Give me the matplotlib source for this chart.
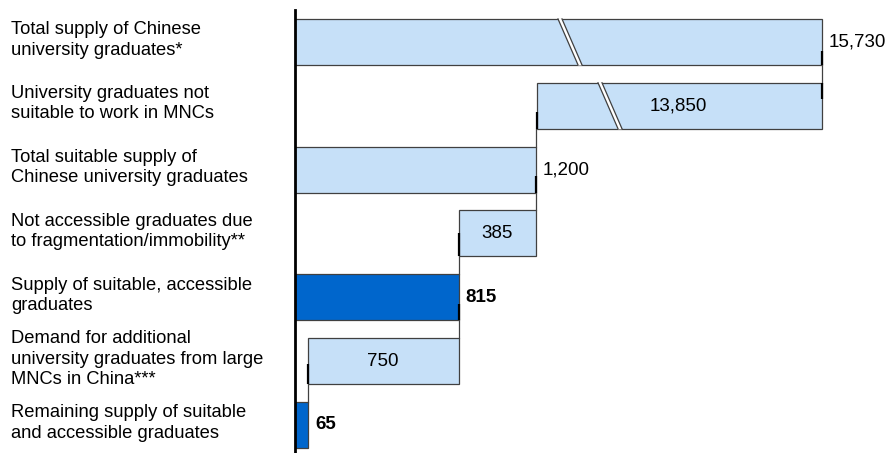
import numpy as np
import matplotlib
matplotlib.use("Agg")
import matplotlib.pyplot as plt
from matplotlib.patches import Polygon
from matplotlib.transforms import blended_transform_factory

plt.rcParams['font.family'] = ['Liberation Sans', 'DejaVu Sans']

# ---- data -------------------------------------------------------------
categories = [
    "Total supply of Chinese\nuniversity graduates*",
    "University graduates not\nsuitable to work in MNCs",
    "Total suitable supply of\nChinese university graduates",
    "Not accessible graduates due\nto fragmentation/immobility**",
    "Supply of suitable, accessible\ngraduates",
    "Demand for additional\nuniversity graduates from large\nMNCs in China***",
    "Remaining supply of suitable\nand accessible graduates",
]
total_supply = 15730
not_suitable = 13850
suitable = 1200
not_accessible = 385
accessible = 815
mnc_demand = 750
remaining = 65

values = [total_supply, not_suitable, suitable, not_accessible,
          accessible, mnc_demand, remaining]
value_labels = ["15,730", "13,850", "1,200", "385", "815", "750", "65"]
is_result = [False, False, False, False, True, False, True]

# waterfall geometry
lefts = [0, total_supply - not_suitable, 0, suitable - not_accessible,
         0, accessible - mnc_demand, 0]
rights = [l + v for l, v in zip(lefts, values)]

# ---- broken axis scale ------------------------------------------------
A = suitable                      # end of the fully linear part
B = total_supply - not_suitable   # start of the long compressed part
S_MID = 0.005                     # squeeze between A and B
END_SCALED = 2620.0               # where the longest bar ends in scaled units
K = (END_SCALED - (A + (B - A) * S_MID)) / (total_supply - B)


def fwd(x):
    x = np.asarray(x, dtype=float)
    return np.where(x <= A, x,
                    np.where(x <= B, A + (x - A) * S_MID,
                             A + (B - A) * S_MID + (x - B) * K))


def inv(y):
    y = np.asarray(y, dtype=float)
    yb = A + (B - A) * S_MID
    return np.where(y <= A, y,
                    np.where(y <= yb, A + (y - A) / S_MID,
                             B + (y - yb) / K))


def shift(x, px):
    """Data position px pixels to the right of data position x."""
    return float(inv(fwd(x) + px / px_per_unit))


# ---- figure -------------------------------------------------------------
W, H = 889, 453
fig = plt.figure(figsize=(W / 100, H / 100), dpi=100)
ax_left = 294.5 / W
ax_top = 10 / H
ax = fig.add_axes([ax_left, 0.0, 1 - ax_left, 1 - ax_top])
ax.set_xscale('function', functions=(fwd, inv))
px_per_unit = 0.2013
ax.set_xlim(0, float(inv((W - 294.5) / px_per_unit)))
ax.set_ylim(6.44, -0.5)

light = '#C6E0F8'
dark = '#0066CC'
edge = '#404040'
bh = 0.72

ypos = np.arange(len(categories))
for i in ypos:
    ax.barh(i, rights[i] - lefts[i], left=lefts[i], height=bh,
            color=dark if is_result[i] else light,
            edgecolor=edge, linewidth=0.9, zorder=2)

# connectors between consecutive bars
conn_x = [total_supply, suitable, suitable, accessible, accessible, remaining]
for i, cx in enumerate(conn_x):
    ax.plot([cx, cx], [i + bh / 2, i + 1 - bh / 2], color=edge, lw=0.9,
            zorder=1)

# short heavy ticks on the joined bar ends
ticks = [(total_supply, 0, 0.15, 0.36), (total_supply, 1, -0.36, -0.1),
         (B, 1, 0.1, 0.36), (suitable, 2, 0.1, 0.36),
         (accessible, 3, 0.0, 0.36), (accessible, 4, 0.1, 0.36),
         (remaining, 5, 0.05, 0.36)]
for tx, ti, y0, y1 in ticks:
    ax.plot([tx, tx], [ti + y0, ti + y1], color='black', lw=1.6, zorder=3,
            solid_capstyle='butt')


# break marks on the two long bars
def break_mark(row, center_scaled):
    slant = 10 / px_per_unit
    gap = 4 / px_per_unit
    yt, yb = row - bh / 2 - 0.01, row + bh / 2 + 0.01
    c = center_scaled
    pts_scaled = [(c - slant - gap / 2, yt), (c - slant + gap / 2, yt),
                  (c + slant + gap / 2, yb), (c + slant - gap / 2, yb)]
    pts = [(float(inv(px)), py) for px, py in pts_scaled]
    ax.add_patch(Polygon(pts, closed=True, facecolor='white',
                         edgecolor='none', zorder=4))
    for a, b in [(0, 3), (1, 2)]:
        ax.plot([pts[a][0], pts[b][0]], [pts[a][1] + 0.01, pts[b][1] - 0.01],
                color=edge, lw=0.9, zorder=5)


break_mark(0, (570 - 294.5) / px_per_unit)
break_mark(1, (610 - 294.5) / px_per_unit)

# value labels
fs_val = 13.5
ax.text(shift(total_supply, 7), 0, value_labels[0],
        va='center', ha='left', fontsize=fs_val)
ax.text(float(inv((678 - 294.5) / px_per_unit)), 1, value_labels[1],
        va='center', ha='center', fontsize=fs_val, zorder=6)
ax.text(shift(suitable, 7), 2, value_labels[2], va='center', ha='left',
        fontsize=fs_val)
ax.text((lefts[3] + rights[3]) / 2, 3, value_labels[3], va='center',
        ha='center', fontsize=fs_val)
ax.text(shift(accessible, 7), 4, value_labels[4], va='center', ha='left',
        fontsize=fs_val, fontweight='bold')
ax.text((lefts[5] + rights[5]) / 2, 5, value_labels[5], va='center',
        ha='center', fontsize=fs_val)
ax.text(shift(remaining, 8), 6, value_labels[6], va='center',
        ha='left', fontsize=fs_val, fontweight='bold')

# category labels on the left
tr = blended_transform_factory(fig.transFigure, ax.transData)
for i, lab in enumerate(categories):
    ax.text(11 / W, i - 0.03, lab, transform=tr, ha='left', va='center',
            fontsize=13.2, linespacing=1.25, clip_on=False)

for s in ['top', 'right', 'bottom']:
    ax.spines[s].set_visible(False)
ax.spines['left'].set_linewidth(2)
ax.spines['left'].set_color('black')
ax.set_xticks([])
ax.set_yticks([])
ax.patch.set_visible(False)

fig.savefig('out.png', dpi=100)
